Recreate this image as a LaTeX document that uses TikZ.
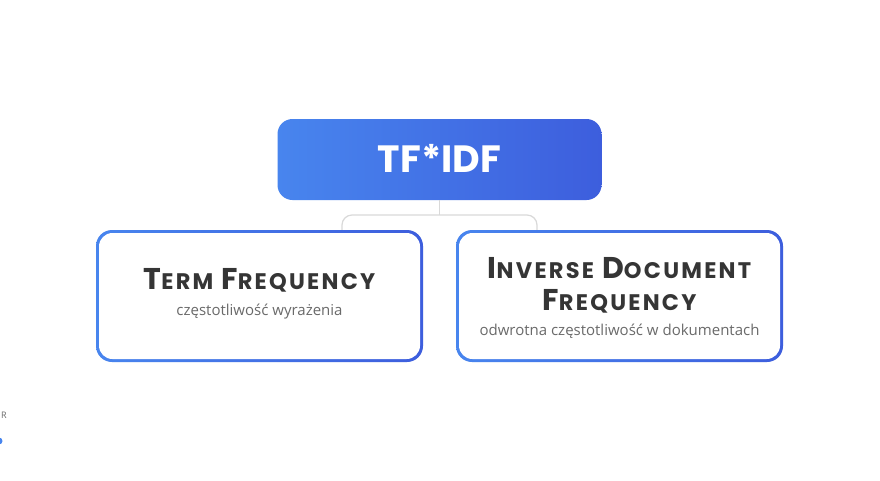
\documentclass[tikz,border=0pt]{standalone}
\usepackage{fontspec}
\setmainfont{Open Sans}
\newfontfamily\titlefont{Poppins}[LetterSpace=10]
\newfontfamily\headfont{Poppins}
\definecolor{blueL}{HTML}{4885EE}
\definecolor{blueR}{HTML}{3D5EDD}
\definecolor{titlegray}{HTML}{353535}
\definecolor{subgray}{HTML}{6A6A6A}
\definecolor{conngray}{HTML}{D9D9D9}
\newcommand{\capsm}[2]{{\fontsize{30}{30}\selectfont #1}{\fontsize{22.5}{22.5}\selectfont #2}}
\newcommand{\wsp}{\hspace{8pt}}
\tikzset{
  headbox/.style={rounded corners=15pt, left color=blueL, right color=blueR, minimum width=324pt, minimum height=81pt, inner sep=0pt},
  outerbox/.style={rounded corners=16pt, left color=blueL, right color=blueR, minimum width=327pt, minimum height=132pt, inner sep=0pt},
  innerbox/.style={rounded corners=13.5pt, fill=white, minimum width=321pt, minimum height=126pt, inner sep=0pt},
  ttl/.style={anchor=base, inner sep=0pt, text=titlegray, font=\titlefont\bfseries},
  sub/.style={anchor=base, inner sep=0pt, text=subgray, font=\fontsize{15}{15}\selectfont},
  conn/.style={draw=conngray, line width=1.2pt},
}
\begin{document}
\begin{tikzpicture}[x=1pt,y=-1pt]
\useasboundingbox (0,0) rectangle (880,480);
\fill[white] (0,0) rectangle (880,480);
% head
\node[headbox] (tf) at (439.5,159.5) {};
\node[anchor=base, inner sep=0pt, text=white, font=\headfont\bfseries\fontsize{38}{38}\selectfont] (tft) at (439.5,172) {TF*IDF};
% connector
\coordinate (j) at (439.5,215);
\coordinate (cl) at (342,232);
\coordinate (cr) at (537,232);
\draw[conn, rounded corners=10pt] (cl) |- (j) -| (cr);
\draw[conn] (tf.south) -- (j);
% left box
\node[outerbox] (lbo) at (259.5,296) {};
\node[innerbox] (lb) at (lbo.center) {};
\node[ttl] (lt) at (259.5,289) {\capsm{T}{ERM}\wsp\capsm{F}{REQUENCY}};
\node[sub] (ls) at (259.5,315) {częstotliwość wyrażenia};
% right box
\node[outerbox] (rbo) at (619.5,296) {};
\node[innerbox] (rb) at (rbo.center) {};
\node[ttl] (rt1) at (619.5,278) {\capsm{I}{NVERSE}\wsp\capsm{D}{OCUMENT}};
\node[ttl] (rt2) at (619.5,310) {\capsm{F}{REQUENCY}};
\node[sub] (rs) at (619.5,335.5) {odwrotna częstotliwość w dokumentach};
% edge fragments
\node[anchor=base west, inner sep=0pt, text=subgray, font=\fontsize{9}{9}\selectfont] (frag) at (1,418) {R};
\fill[blueL] (-1,441) circle (3.5);
\end{tikzpicture}
\end{document}
